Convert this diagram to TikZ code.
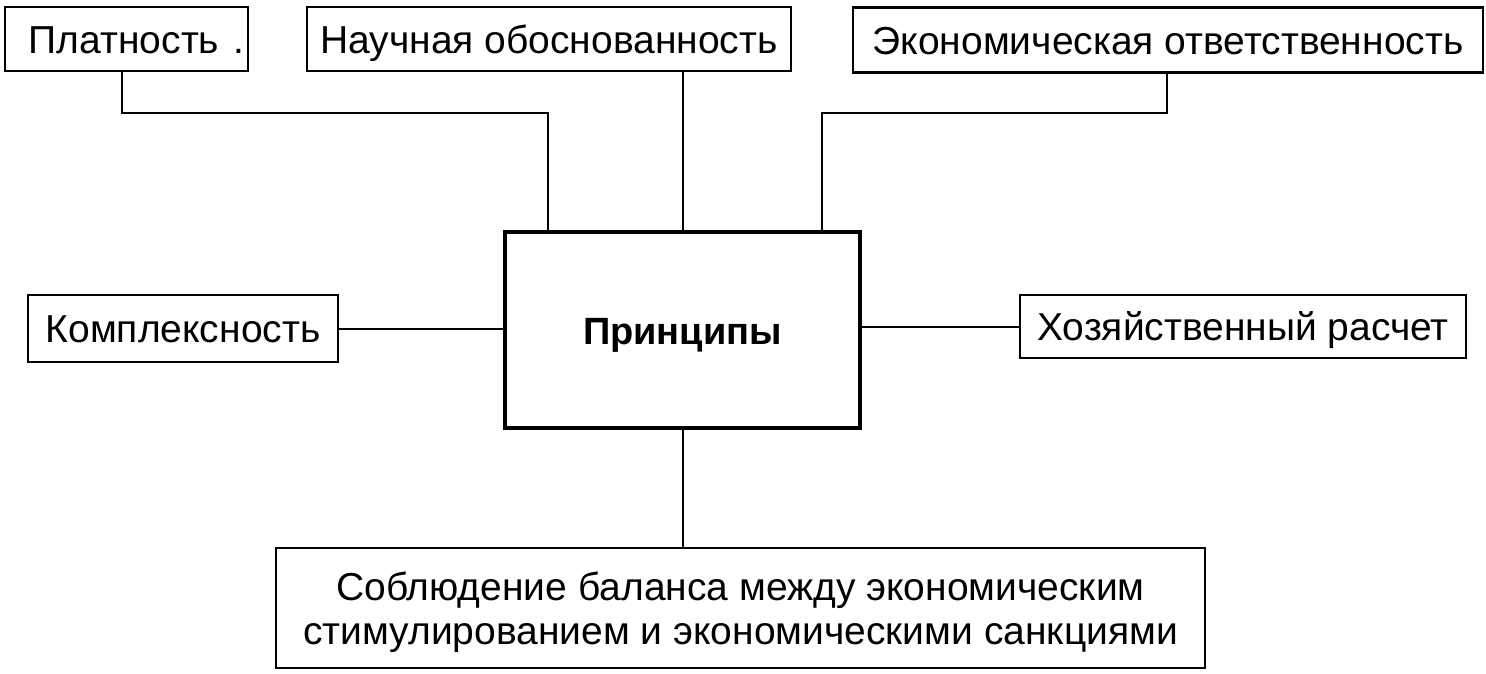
\documentclass[tikz,border=0pt]{standalone}
\usepackage{fontspec}
\setmainfont{Liberation Sans}
\begin{document}
\begin{tikzpicture}[x=1pt,y=-1pt,
  box/.style={draw, line width=2.2pt, inner sep=0pt, outer sep=0pt,
    font=\fontsize{39}{45}\selectfont, text height=28pt, text depth=0pt},
  twoline/.style={draw, line width=2.2pt, inner sep=0pt, outer sep=0pt, align=center,
    font=\fontsize{39}{44}\selectfont},
  mainbox/.style={box, line width=4.5pt, font=\fontsize{38}{45}\selectfont\bfseries},
  conn/.style={line width=2pt}]
\useasboundingbox (0,0) rectangle (1486,673);
\node[box, minimum width=243pt, minimum height=64pt] (plat) at (126.5,39) {\hspace*{20pt}Платность\hspace{14pt}.};
\node[box, minimum width=484pt, minimum height=64pt] (nauch) at (549,39) {Научная обоснованность};
\node[box, minimum width=630pt, minimum height=65pt] (econ) at (1168,40) {Экономическая ответственность};
\node[box, minimum width=310pt, minimum height=67pt] (kompl) at (183,328.5) {Комплексность};
\node[mainbox, minimum width=355pt, minimum height=196pt] (princ) at (682.5,330) {Принципы};
\node[box, minimum width=446pt, minimum height=63pt] (hoz) at (1243,326.5) {Хозяйственный расчет};
\node[twoline, minimum width=929pt, minimum height=120pt] (bal) at (740.5,608)
  {\rule{0pt}{38pt}Соблюдение баланса между экономическим\\стимулированием и экономическими санкциями};
\coordinate (k1) at (122,113);
\coordinate (k2) at (548,113);
\coordinate (k3) at (1167,113);
\coordinate (k4) at (822,113);
\draw[conn] (plat.south -| k1) -- (k1) -- (k2) -- (princ.north -| k2);
\draw[conn] (nauch.south -| princ.north) -- (princ.north);
\draw[conn] (econ.south -| k3) -- (k3) -- (k4) -- (princ.north -| k4);
\draw[conn] (kompl.east) -- (kompl.east -| princ.west);
\draw[conn] (hoz.west -| princ.east) -- (hoz.west);
\draw[conn] (princ.south) -- (bal.north -| princ.south);
\end{tikzpicture}
\end{document}
